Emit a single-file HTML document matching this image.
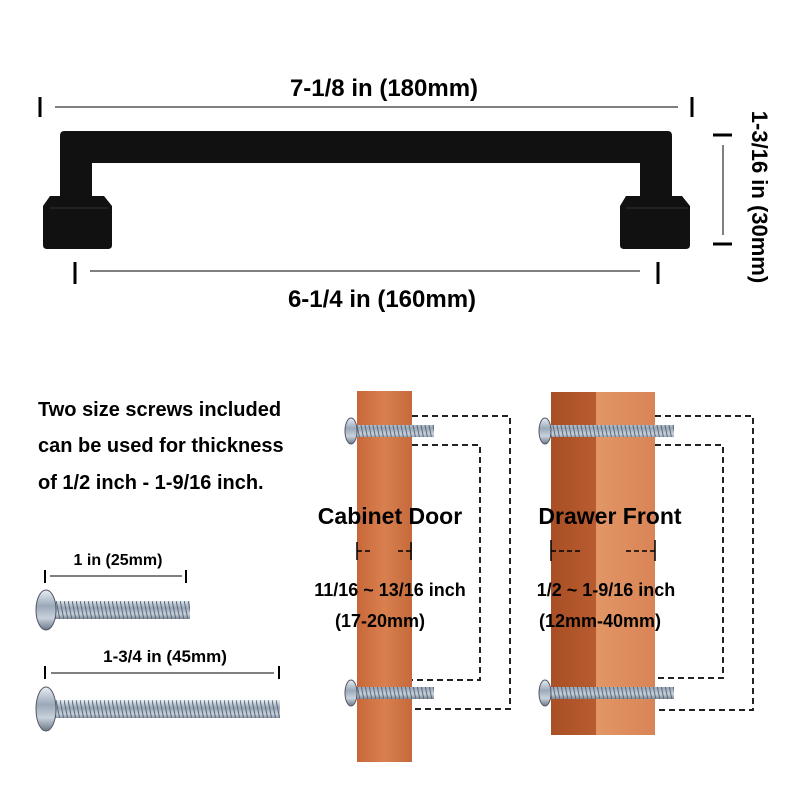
<!DOCTYPE html>
<html><head><meta charset="utf-8"><style>
body{margin:0;background:#fff}
svg{display:block}
text{font-family:"Liberation Sans",sans-serif;font-weight:bold;fill:#000}
</style></head><body>
<svg width="800" height="800" viewBox="0 0 800 800" xmlns="http://www.w3.org/2000/svg">
<defs>
<linearGradient id="w1" x1="0" x2="1"><stop offset="0" stop-color="#c8683a"/><stop offset="0.5" stop-color="#d9804f"/><stop offset="1" stop-color="#c46a3c"/></linearGradient>
<linearGradient id="w2" x1="0" x2="1"><stop offset="0" stop-color="#a94f25"/><stop offset="1" stop-color="#b85c30"/></linearGradient>
<linearGradient id="w3" x1="0" x2="1"><stop offset="0" stop-color="#e29666"/><stop offset="1" stop-color="#d98456"/></linearGradient>
<linearGradient id="sc" x1="0" y1="0" x2="0" y2="1"><stop offset="0" stop-color="#e8eef4"/><stop offset="0.4" stop-color="#9aa8b8"/><stop offset="0.7" stop-color="#c8d2dc"/><stop offset="1" stop-color="#6c7888"/></linearGradient>
<pattern id="th" width="4" height="20" patternUnits="userSpaceOnUse"><rect width="4" height="20" fill="url(#sc)"/><line x1="0" y1="0" x2="4" y2="20" stroke="#5a6878" stroke-width="1"/></pattern>
</defs>

<!-- handle -->
<g fill="#111">
<path d="M64,131 L668,131 Q672,131 672,136 L672,200 L640,200 L640,163 L92,163 L92,200 L60,200 L60,136 Q60,131 64,131Z"/>
<path d="M50,196 L104,196 L112,206 L112,245 Q112,249 108,249 L47,249 Q43,249 43,245 L43,206Z"/>
<path d="M626,196 L682,196 L690,206 L690,245 Q690,249 686,249 L624,249 Q620,249 620,245 L620,206Z"/>
<line x1="50" y1="208" x2="108" y2="208" stroke="#333" stroke-width="1"/>
<line x1="626" y1="208" x2="688" y2="208" stroke="#333" stroke-width="1"/>
</g>

<g stroke="#000">
<line x1="40" y1="97" x2="40" y2="117" stroke-width="3"/>
<line x1="692" y1="97" x2="692" y2="117" stroke-width="3"/>
<line x1="55" y1="107" x2="678" y2="107" stroke-width="1"/>
<line x1="75" y1="262" x2="75" y2="284" stroke-width="3"/>
<line x1="658" y1="262" x2="658" y2="284" stroke-width="3"/>
<line x1="90" y1="271" x2="640" y2="271" stroke-width="1"/>
<line x1="713" y1="135" x2="732" y2="135" stroke-width="3"/>
<line x1="713" y1="244" x2="732" y2="244" stroke-width="3"/>
<line x1="723" y1="145" x2="723" y2="235" stroke-width="1"/>
</g>
<text x="384" y="96" font-size="24" text-anchor="middle">7-1/8 in (180mm)</text>
<text x="382" y="307" font-size="24" text-anchor="middle">6-1/4 in (160mm)</text>
<text transform="translate(752,197) rotate(90)" font-size="22" text-anchor="middle">1-3/16 in (30mm)</text>

<text x="38" y="416" font-size="20">Two size screws included</text>
<text x="38" y="452" font-size="20">can be used for thickness</text>
<text x="38" y="489" font-size="20">of 1/2 inch - 1-9/16 inch.</text>

<g stroke="#000">
<line x1="45" y1="570" x2="45" y2="583" stroke-width="2"/>
<line x1="186" y1="570" x2="186" y2="583" stroke-width="2"/>
<line x1="50" y1="576" x2="182" y2="576" stroke-width="1"/>
<line x1="45" y1="666" x2="45" y2="679" stroke-width="2"/>
<line x1="279" y1="666" x2="279" y2="679" stroke-width="2"/>
<line x1="51" y1="673" x2="274" y2="673" stroke-width="1"/>
</g>
<text x="118" y="565" font-size="16" text-anchor="middle">1 in (25mm)</text>
<text x="165" y="662" font-size="17" text-anchor="middle">1-3/4 in (45mm)</text>
<rect x="55" y="601" width="135" height="18" fill="url(#th)"/>
<ellipse cx="46" cy="610" rx="10" ry="20" fill="url(#sc)" stroke="#556" stroke-width="1"/>
<rect x="55" y="700" width="225" height="18" fill="url(#th)"/>
<ellipse cx="46" cy="709" rx="10" ry="22" fill="url(#sc)" stroke="#556" stroke-width="1"/>

<rect x="357" y="391" width="55" height="371" fill="url(#w1)"/>
<rect x="551" y="392" width="45" height="343" fill="url(#w2)"/>
<rect x="596" y="392" width="59" height="343" fill="url(#w3)"/>

<g fill="none" stroke="#222" stroke-width="2" stroke-dasharray="6,4">
<path d="M412,416 H510 V709 H412"/>
<path d="M412,445 H480 V680 H412"/>
<path d="M655,416 H753 V710 H655"/>
<path d="M655,445 H723 V678 H655"/>
</g>

<g>
<rect x="354" y="425" width="80" height="12" fill="url(#th)"/>
<ellipse cx="351" cy="431" rx="6" ry="13" fill="url(#sc)" stroke="#556"/>
<rect x="354" y="687" width="80" height="12" fill="url(#th)"/>
<ellipse cx="351" cy="693" rx="6" ry="13" fill="url(#sc)" stroke="#556"/>
<rect x="548" y="425" width="126" height="12" fill="url(#th)"/>
<ellipse cx="545" cy="431" rx="6" ry="13" fill="url(#sc)" stroke="#556"/>
<rect x="548" y="687" width="126" height="12" fill="url(#th)"/>
<ellipse cx="545" cy="693" rx="6" ry="13" fill="url(#sc)" stroke="#556"/>
</g>

<text x="390" y="524" font-size="23" text-anchor="middle">Cabinet Door</text>
<text x="610" y="524" font-size="23" text-anchor="middle">Drawer Front</text>
<g stroke="#000" stroke-width="1.5">
<line x1="357" y1="542" x2="357" y2="560"/><line x1="411" y1="542" x2="411" y2="560"/>
<line x1="357" y1="551" x2="372" y2="551" stroke-dasharray="5,3"/>
<line x1="398" y1="551" x2="411" y2="551" stroke-dasharray="5,3"/>
<line x1="551" y1="540" x2="551" y2="561"/><line x1="655" y1="540" x2="655" y2="561"/>
<line x1="551" y1="551" x2="581" y2="551" stroke-dasharray="5,3"/>
<line x1="626" y1="551" x2="655" y2="551" stroke-dasharray="5,3"/>
</g>
<text x="390" y="596" font-size="18" text-anchor="middle">11/16 ~ 13/16 inch</text>
<text x="380" y="627" font-size="18" text-anchor="middle">(17-20mm)</text>
<text x="606" y="596" font-size="18" text-anchor="middle">1/2 ~ 1-9/16 inch</text>
<text x="600" y="627" font-size="18" text-anchor="middle">(12mm-40mm)</text>
</svg>
</body></html>
